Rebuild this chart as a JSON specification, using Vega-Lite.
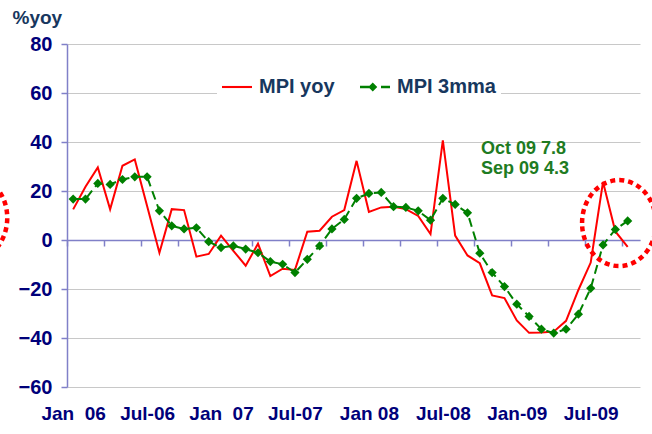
{
  "$schema": "https://vega.github.io/schema/vega-lite/v6.json",
  "width": 573,
  "height": 343,
  "autosize": {"type": "none"},
  "padding": {"left": 67, "top": 44, "right": 12, "bottom": 47},
  "config": {"view": {"stroke": null}, "font": "Liberation Sans"},
  "datasets": {
    "mpi": [
      {"month": "Jan-06", "idx": 0, "MPI yoy": 12.5, "MPI 3mma": 16.7},
      {"month": "Feb-06", "idx": 1, "MPI yoy": 21.7, "MPI 3mma": 16.7},
      {"month": "Mar-06", "idx": 2, "MPI yoy": 29.6, "MPI 3mma": 23.1},
      {"month": "Apr-06", "idx": 3, "MPI yoy": 12.5, "MPI 3mma": 22.7},
      {"month": "May-06", "idx": 4, "MPI yoy": 30.3, "MPI 3mma": 24.7},
      {"month": "Jun-06", "idx": 5, "MPI yoy": 32.9, "MPI 3mma": 25.8},
      {"month": "Jul-06", "idx": 6, "MPI yoy": 13.9, "MPI 3mma": 25.8},
      {"month": "Aug-06", "idx": 7, "MPI yoy": -5.2, "MPI 3mma": 11.9},
      {"month": "Sep-06", "idx": 8, "MPI yoy": 12.6, "MPI 3mma": 5.8},
      {"month": "Oct-06", "idx": 9, "MPI yoy": 12.2, "MPI 3mma": 4.5},
      {"month": "Nov-06", "idx": 10, "MPI yoy": -6.8, "MPI 3mma": 5.0},
      {"month": "Dec-06", "idx": 11, "MPI yoy": -5.7, "MPI 3mma": -0.7},
      {"month": "Jan-07", "idx": 12, "MPI yoy": 1.8, "MPI 3mma": -3.1},
      {"month": "Feb-07", "idx": 13, "MPI yoy": -4.4, "MPI 3mma": -2.4},
      {"month": "Mar-07", "idx": 14, "MPI yoy": -10.5, "MPI 3mma": -3.7},
      {"month": "Apr-07", "idx": 15, "MPI yoy": -1.5, "MPI 3mma": -5.2},
      {"month": "May-07", "idx": 16, "MPI yoy": -14.7, "MPI 3mma": -8.8},
      {"month": "Jun-07", "idx": 17, "MPI yoy": -11.7, "MPI 3mma": -9.9},
      {"month": "Jul-07", "idx": 18, "MPI yoy": -12.2, "MPI 3mma": -13.3},
      {"month": "Aug-07", "idx": 19, "MPI yoy": 3.4, "MPI 3mma": -7.9},
      {"month": "Sep-07", "idx": 20, "MPI yoy": 3.8, "MPI 3mma": -2.4},
      {"month": "Oct-07", "idx": 21, "MPI yoy": 9.5, "MPI 3mma": 4.5},
      {"month": "Nov-07", "idx": 22, "MPI yoy": 12.2, "MPI 3mma": 8.4},
      {"month": "Dec-07", "idx": 23, "MPI yoy": 32.3, "MPI 3mma": 17.0},
      {"month": "Jan-08", "idx": 24, "MPI yoy": 11.5, "MPI 3mma": 19.0},
      {"month": "Feb-08", "idx": 25, "MPI yoy": 13.3, "MPI 3mma": 19.4},
      {"month": "Mar-08", "idx": 26, "MPI yoy": 13.6, "MPI 3mma": 13.6},
      {"month": "Apr-08", "idx": 27, "MPI yoy": 12.6, "MPI 3mma": 13.3},
      {"month": "May-08", "idx": 28, "MPI yoy": 9.8, "MPI 3mma": 11.9},
      {"month": "Jun-08", "idx": 29, "MPI yoy": 2.4, "MPI 3mma": 8.1},
      {"month": "Jul-08", "idx": 30, "MPI yoy": 40.7, "MPI 3mma": 17.0},
      {"month": "Aug-08", "idx": 31, "MPI yoy": 1.8, "MPI 3mma": 14.5},
      {"month": "Sep-08", "idx": 32, "MPI yoy": -6.3, "MPI 3mma": 11.1},
      {"month": "Oct-08", "idx": 33, "MPI yoy": -9.5, "MPI 3mma": -5.4},
      {"month": "Nov-08", "idx": 34, "MPI yoy": -22.6, "MPI 3mma": -13.3},
      {"month": "Dec-08", "idx": 35, "MPI yoy": -23.7, "MPI 3mma": -19.0},
      {"month": "Jan-09", "idx": 36, "MPI yoy": -32.8, "MPI 3mma": -26.2},
      {"month": "Feb-09", "idx": 37, "MPI yoy": -37.9, "MPI 3mma": -31.2},
      {"month": "Mar-09", "idx": 38, "MPI yoy": -37.8, "MPI 3mma": -36.4},
      {"month": "Apr-09", "idx": 39, "MPI yoy": -37.4, "MPI 3mma": -38.0},
      {"month": "May-09", "idx": 40, "MPI yoy": -33.0, "MPI 3mma": -36.4},
      {"month": "Jun-09", "idx": 41, "MPI yoy": -20.4, "MPI 3mma": -30.3},
      {"month": "Jul-09", "idx": 42, "MPI yoy": -9.2, "MPI 3mma": -19.7},
      {"month": "Aug-09", "idx": 43, "MPI yoy": 23.7, "MPI 3mma": -2.0},
      {"month": "Sep-09", "idx": 44, "MPI yoy": 3.5, "MPI 3mma": 4.3},
      {"month": "Oct-09", "idx": 45, "MPI yoy": -2.8, "MPI 3mma": 7.8}
    ],
    "notes": [
      {"idx": 33.1, "value": 35.3, "note": "Oct 09 7.8"},
      {"idx": 33.1, "value": 26.8, "note": "Sep 09 4.3"}
    ],
    "circles": [
      {"idx": 44.3, "value": 6.9},
      {"idx": -8.35, "value": 9.0}
    ]
  },
  "resolve": {"axis": {"x": "independent"}},
  "layer": [
    {
      "data": {"name": "mpi"},
      "transform": [
        {"fold": ["MPI yoy", "MPI 3mma"], "as": ["series", "value"]},
        {"filter": "datum.series == 'MPI yoy'"}
      ],
      "mark": {"type": "line", "strokeWidth": 2},
      "encoding": {
        "x": {
          "field": "idx", "type": "quantitative",
          "scale": {"domain": [-0.5, 46], "nice": false, "zero": false},
          "axis": {
            "orient": "bottom",
            "values": [0, 6, 12, 18, 24, 30, 36, 42],
            "labelExpr": "datum.value == 0 ? 'Jan\u00a0 06' : datum.value == 6 ? 'Jul-06' : datum.value == 12 ? 'Jan\u00a0 07' : datum.value == 18 ? 'Jul-07' : datum.value == 24 ? 'Jan 08' : datum.value == 30 ? 'Jul-08' : datum.value == 36 ? 'Jan-09' : 'Jul-09'",
            "domain": false, "ticks": false, "grid": false,
            "labelPadding": 17, "labelFont": "Liberation Sans", "labelFontSize": 19,
            "labelFontWeight": "bold", "labelColor": "#00007A", "labelFlush": false,
            "labelOverlap": false, "title": null
          }
        },
        "y": {
          "field": "value", "type": "quantitative",
          "scale": {"domain": [-60, 80], "nice": false, "zero": false},
          "axis": {
            "values": [-60, -40, -20, 0, 20, 40, 60, 80],
            "grid": true, "gridColor": "#C8C8C8", "gridWidth": 1,
            "domainColor": "#8080C8", "domainWidth": 1.5,
            "tickColor": "#8080C8", "tickSize": 6, "tickWidth": 1.5,
            "labelPadding": 9, "labelFont": "Liberation Sans", "labelFontSize": 20,
            "labelFontWeight": "bold", "labelColor": "#00007A",
            "title": "%yoy", "titleAngle": 0, "titleX": -55, "titleY": -21,
            "titleAlign": "left", "titleBaseline": "alphabetic",
            "titleFont": "Liberation Sans", "titleFontSize": 19,
            "titleFontWeight": "bold", "titleColor": "#17375E"
          }
        },
        "color": {
          "field": "series", "type": "nominal",
          "scale": {"domain": ["MPI yoy", "MPI 3mma"], "range": ["#FF0000", "#008000"]},
          "legend": {
            "orient": "none", "direction": "horizontal",
            "legendX": 150, "legendY": 23, "title": null,
            "fillColor": "#FFFFFF", "padding": 5,
            "symbolSize": 900, "labelOffset": 7, "columnPadding": 25,
            "labelFont": "Liberation Sans", "labelFontSize": 20,
            "labelFontWeight": "bold", "labelColor": "#17375E",
            "encode": {
              "symbols": {
                "update": {
                  "shape": {"signal": "datum.value == 'MPI yoy' ? 'M-1,-0.07H1V0.07H-1Z' : 'M-1,-0.08H-0.15V0.08H-1Z M-0.15,-0.3L0.15,0L-0.15,0.3L-0.45,0Z M0.4,-0.08H1V0.08H0.4Z'"},
                  "fill": {"signal": "datum.value == 'MPI yoy' ? '#FF0000' : '#008000'"},
                  "fillOpacity": {"value": 1},
                  "opacity": {"value": 1},
                  "strokeWidth": {"value": 0},
                  "size": {"value": 900}
                }
              }
            }
          }
        }
      }
    },
    {
      "data": {"name": "mpi"},
      "transform": [
        {"fold": ["MPI yoy", "MPI 3mma"], "as": ["series", "value"]},
        {"filter": "datum.series == 'MPI 3mma'"}
      ],
      "mark": {"type": "line", "strokeWidth": 2, "strokeDash": [9, 5]},
      "encoding": {
        "x": {
          "field": "idx", "type": "quantitative",
          "axis": {
            "orient": "bottom", "offset": -147,
            "values": [-0.5, 2.5, 5.5, 8.5, 11.5, 14.5, 17.5, 20.5, 23.5, 26.5, 29.5, 32.5, 35.5, 38.5, 41.5, 44.5],
            "labels": false, "grid": false,
            "domain": true, "domainColor": "#8080C8", "domainWidth": 1.5,
            "ticks": true, "tickColor": "#8080C8", "tickSize": 6, "tickWidth": 1.5,
            "title": null
          }
        },
        "y": {"field": "value", "type": "quantitative"},
        "color": {"field": "series", "type": "nominal"}
      }
    },
    {
      "data": {"name": "mpi"},
      "transform": [
        {"fold": ["MPI yoy", "MPI 3mma"], "as": ["series", "value"]},
        {"filter": "datum.series == 'MPI 3mma'"}
      ],
      "mark": {"type": "point", "shape": "diamond", "filled": true, "size": 85, "opacity": 1},
      "encoding": {
        "x": {"field": "idx", "type": "quantitative", "axis": null},
        "y": {"field": "value", "type": "quantitative"},
        "color": {"field": "series", "type": "nominal"}
      }
    },
    {
      "data": {"name": "notes"},
      "mark": {"type": "text", "align": "left", "baseline": "alphabetic", "font": "Liberation Sans", "fontSize": 18, "fontWeight": "bold", "color": "#1E7B22"},
      "encoding": {
        "x": {"field": "idx", "type": "quantitative", "axis": null},
        "y": {"field": "value", "type": "quantitative"},
        "text": {"field": "note"}
      }
    },
    {
      "data": {"name": "circles"},
      "mark": {"type": "point", "shape": "M-0.86,0A0.86,1 0 1,1 0.86,0A0.86,1 0 1,1 -0.86,0Z", "filled": false, "size": 7396, "stroke": "#FF0000", "strokeWidth": 4.5, "strokeDash": [5, 4], "opacity": 1, "clip": false},
      "encoding": {
        "x": {"field": "idx", "type": "quantitative", "axis": null},
        "y": {"field": "value", "type": "quantitative"}
      }
    }
  ]
}
